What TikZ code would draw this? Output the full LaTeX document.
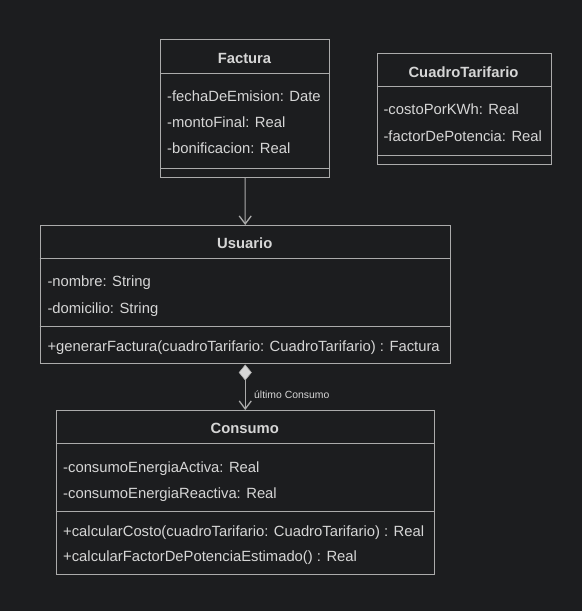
\documentclass[tikz,border=0pt]{standalone}
\usepackage{fontspec}
\setmainfont{Liberation Sans}
\usetikzlibrary{arrows.meta}
\definecolor{bgdark}{HTML}{1C1D1F}
\definecolor{umlline}{HTML}{ABABAB}
\definecolor{umltext}{HTML}{D6D6D6}
\begin{document}
\begin{tikzpicture}[x=1pt,y=-1pt,
    classbox/.style={draw=umlline, line width=1pt, anchor=north west, inner sep=0pt},
    divider/.style={draw=umlline, line width=1pt},
    classtitle/.style={anchor=base, inner sep=0pt, text=umltext, font=\fontsize{14.8}{18}\selectfont\bfseries},
    attr/.style={anchor=base west, inner sep=0pt, text=umltext, font=\fontsize{14.8}{18}\selectfont},
    barb/.style={-{Straight Barb[length=8pt,width=12pt,line width=1.3pt]}}]
\fill[bgdark] (0,0) rectangle (582,611);
\useasboundingbox (0,0) rectangle (582,611);
% Factura
\node[classbox, minimum width=169pt, minimum height=138pt] (factura) at (160,39) {};
\draw[divider] ([yshift=-34pt]factura.north west) -- ([yshift=-34pt]factura.north east);
\draw[divider] ([yshift=10pt]factura.south west) -- ([yshift=10pt]factura.south east);
\node[classtitle] (facturaT) at (244.5,63.4) {Factura};
\foreach \yb/\txt [count=\i] in {101.5/{-fechaDeEmision: Date}, 127/{-montoFinal: Real}, 153.5/{-bonificacion: Real}}
    \node[attr] (facturaA\i) at (167,\yb) {\txt};
% CuadroTarifario
\node[classbox, minimum width=174pt, minimum height=111.5pt] (cuadro) at (376.5,52.5) {};
\draw[divider] ([yshift=-34pt]cuadro.north west) -- ([yshift=-34pt]cuadro.north east);
\draw[divider] ([yshift=10pt]cuadro.south west) -- ([yshift=10pt]cuadro.south east);
\node[classtitle] (cuadroT) at (463.5,77) {CuadroTarifario};
\foreach \yb/\txt [count=\i] in {114.5/{-costoPorKWh: Real}, 141/{-factorDePotencia: Real}}
    \node[attr] (cuadroA\i) at (383.3,\yb) {\txt};
% Usuario
\node[classbox, minimum width=410.5pt, minimum height=137.5pt] (usuario) at (39.5,225) {};
\draw[divider] ([yshift=-33.5pt]usuario.north west) -- ([yshift=-33.5pt]usuario.north east);
\draw[divider] ([yshift=-101.7pt]usuario.north west) -- ([yshift=-101.7pt]usuario.north east);
\node[classtitle] (usuarioT) at (244.75,248.5) {Usuario};
\foreach \yb/\txt [count=\i] in {286.7/{-nombre: String}, 313.3/{-domicilio: String}, 351/{+generarFactura(cuadroTarifario: CuadroTarifario) : Factura}}
    \node[attr] (usuarioA\i) at (47.3,\yb) {\txt};
% Consumo
\node[classbox, minimum width=378.5pt, minimum height=164pt] (consumo) at (55.5,410) {};
\draw[divider] ([yshift=-33.5pt]consumo.north west) -- ([yshift=-33.5pt]consumo.north east);
\draw[divider] ([yshift=-101.7pt]consumo.north west) -- ([yshift=-101.7pt]consumo.north east);
\node[classtitle] (consumoT) at (244.75,433.5) {Consumo};
\foreach \yb/\txt [count=\i] in {472.3/{-consumoEnergiaActiva: Real}, 498.3/{-consumoEnergiaReactiva: Real}, 536.7/{+calcularCosto(cuadroTarifario: CuadroTarifario) : Real}, 561.7/{+calcularFactorDePotenciaEstimado() : Real}}
    \node[attr] (consumoA\i) at (63,\yb) {\txt};
% relaciones
\draw[line width=1pt, umlline, barb] (factura.south) -- (usuario.north);
\draw[line width=1pt, umlline, {Diamond[length=16pt,width=13pt,fill=umltext,line width=0.6pt]}-{Straight Barb[length=8pt,width=12pt,line width=1.3pt]}, shorten <=1pt] (usuario.south) -- (consumo.north);
\node[anchor=base west, inner sep=0pt, text=umltext, font=\fontsize{10.4}{12}\selectfont] (ultimo) at (254,398.7) {último Consumo};
\end{tikzpicture}
\end{document}
